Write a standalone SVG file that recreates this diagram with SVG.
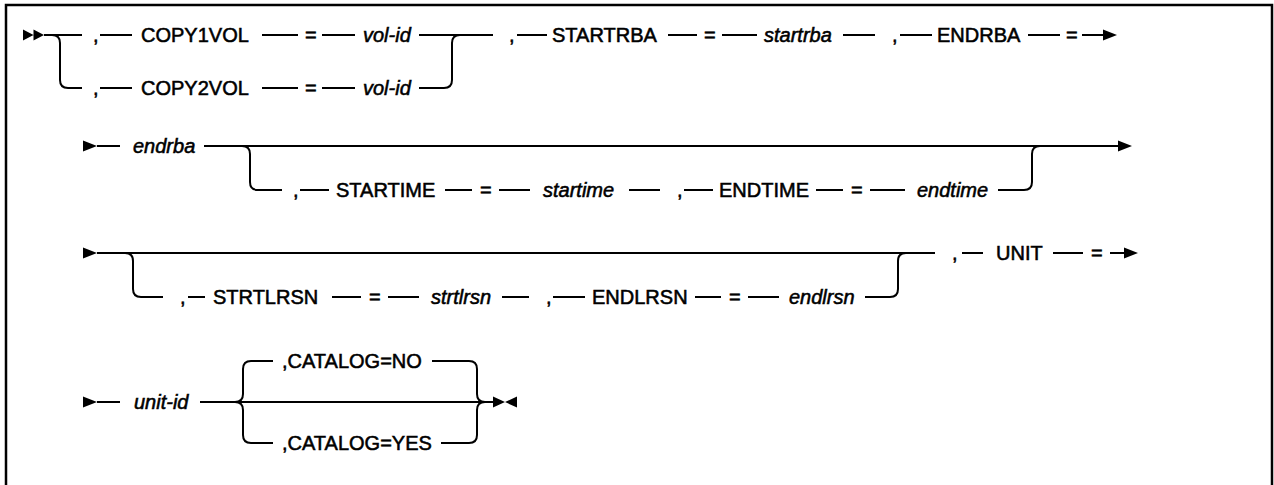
<svg xmlns="http://www.w3.org/2000/svg" width="1274" height="485" viewBox="0 0 1274 485">
<style>
.t{font-family:"Liberation Sans",Arial,sans-serif;font-size:20px;font-weight:normal;fill:#000;stroke:#000;stroke-width:0.55px}
.v{font-style:italic}
.c path{fill:none;stroke:#000;stroke-width:2}
.a{fill:#000}
</style>
<rect x="0" y="0" width="1274" height="485" fill="#fff"/>
<rect x="6" y="5" width="1266" height="500" fill="none" stroke="#000" stroke-width="2.5"/>
<g id="connectors" class="c">
<path d="M44,35 H82 M52,35 Q60,35 60,43 V80 Q60,88 68,88 H82"/>
<path d="M100,35 H132 M100,88 H132 M262,35 H298 M262,88 H298 M322,35 H355 M322,88 H355"/>
<path d="M419,35 H493 M419,88 H444 Q452,88 452,80 V43 Q452,35 460,35"/>
<path d="M517,35 H547 M668,35 H697 M722,35 H757 M843,35 H875 M900,35 H932 M1028,35 H1060 M1082,35 H1105"/>
<path d="M97,146 H120 M204,146 H1118 M242,146 Q250,146 250,154 V182 Q250,190 258,190 H282"/>
<path d="M300,190 H329 M445,190 H472 M499,190 H530 M629,190 H660 M684,190 H713 M816,190 H843 M870,190 H905"/>
<path d="M998,190 H1024 Q1032,190 1032,182 V154 Q1032,146 1040,146"/>
<path d="M97,253 H935 M125,253 Q133,253 133,261 V289 Q133,297 141,297 H163"/>
<path d="M188,297 H205 M332,297 H361 M388,297 H419 M502,297 H529 M553,297 H585 M695,297 H721 M748,297 H779"/>
<path d="M865,297 H890 Q898,297 898,289 V261 Q898,253 906,253"/>
<path d="M962,253 H983 M1053,253 H1083 M1110,253 H1126"/>
<path d="M97,402 H120 M200,402 H495"/>
<path d="M235,402 Q243,402 243,394 V369 Q243,361 251,361 H273 M235,402 Q243,402 243,410 V435 Q243,443 251,443 H273"/>
<path d="M432,361 H469 Q477,361 477,369 V394 Q477,402 485,402 M441,443 H469 Q477,443 477,435 V410 Q477,402 485,402"/>
</g>
<g id="markers">
<path class="a" d="M23,29.5 L33.5,35 L23,40.5 Z M33.5,29.5 L44,35 L33.5,40.5 Z"/>
<path class="a" d="M1103,29.5 L1117,35 L1103,40.5 Z"/>
<path class="a" d="M83,140.5 L97,146 L83,151.5 Z M1118,140.5 L1132,146 L1118,151.5 Z"/>
<path class="a" d="M83,247.5 L97,253 L83,258.5 Z M1124,247.5 L1138,253 L1124,258.5 Z"/>
<path class="a" d="M83,396.5 L97,402 L83,407.5 Z"/>
<path class="a" d="M493,396.5 L505,402 L493,407.5 Z M517,396.5 L505,402 L517,407.5 Z"/>
</g>
<g id="copy1vol"><text class="t" x="93" y="42">,</text><text class="t" x="141" y="42">COPY1VOL</text><text class="t" x="305" y="42">=</text><text class="t v" x="363" y="42">vol-id</text></g>
<g id="copy2vol"><text class="t" x="93" y="95">,</text><text class="t" x="141" y="95">COPY2VOL</text><text class="t" x="305" y="95">=</text><text class="t v" x="363" y="95">vol-id</text></g>
<g id="startrba"><text class="t" x="509" y="42">,</text><text class="t" x="552" y="42">STARTRBA</text><text class="t" x="704" y="42">=</text><text class="t v" x="764" y="42">startrba</text></g>
<g id="endrba"><text class="t" x="892" y="42">,</text><text class="t" x="937" y="42">ENDRBA</text><text class="t" x="1066" y="42">=</text><text class="t v" x="133" y="153">endrba</text></g>
<g id="startime"><text class="t" x="293" y="197">,</text><text class="t" x="336" y="197">STARTIME</text><text class="t" x="480" y="197">=</text><text class="t v" x="543" y="197">startime</text></g>
<g id="endtime"><text class="t" x="677" y="197">,</text><text class="t" x="719" y="197">ENDTIME</text><text class="t" x="851" y="197">=</text><text class="t v" x="917" y="197">endtime</text></g>
<g id="strtlrsn"><text class="t" x="180" y="304">,</text><text class="t" x="213" y="304">STRTLRSN</text><text class="t" x="369" y="304">=</text><text class="t v" x="431" y="304">strtlrsn</text></g>
<g id="endlrsn"><text class="t" x="546" y="304">,</text><text class="t" x="592" y="304">ENDLRSN</text><text class="t" x="729" y="304">=</text><text class="t v" x="789" y="304">endlrsn</text></g>
<g id="unit"><text class="t" x="952" y="260">,</text><text class="t" x="996" y="260">UNIT</text><text class="t" x="1091" y="260">=</text><text class="t v" x="134" y="409">unit-id</text></g>
<g id="catalog-no"><text class="t" x="282" y="368">,CATALOG=NO</text></g>
<g id="catalog-yes"><text class="t" x="282" y="450">,CATALOG=YES</text></g>
</svg>
